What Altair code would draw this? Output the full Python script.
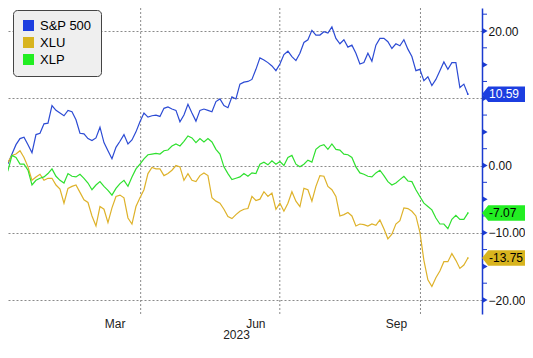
import altair as alt
import pandas as pd

series_names = ["S&P 500", "XLU", "XLP"]
line_colors = ["#2c4bd4", "#deb22a", "#2fe02f"]
start_date = "2022-12-30"
end_date = "2023-11-01"

spx = [0.0, 0.0, 0.3, 1.7, 3.1, 4.0, 4.2, 3.1, 1.9, 4.6,
       4.8, 6.2, 6.3, 8.9, 8.2, 7.8, 7.4, 8.2, 8.0, 6.8,
       4.8, 4.7, 4.0, 3.7, 4.1, 5.7, 3.4, 2.2, 1.0, 2.7,
       3.6, 4.6, 3.2, 3.8, 5.0, 6.5, 7.8, 7.2, 7.4, 7.5,
       7.3, 8.5, 8.7, 8.4, 8.2, 6.5, 7.5, 9.1, 7.8, 6.6,
       8.2, 8.4, 8.2, 8.0, 9.5, 9.9, 8.9, 8.6, 10.2, 9.9,
       12.1, 12.4, 12.5, 12.8, 14.3, 16.0, 15.7, 15.3, 14.8, 14.1,
       15.1, 16.5, 17.0, 16.2, 15.6, 16.7, 18.3, 18.7, 20.1, 19.4,
       19.4, 19.9, 19.7, 20.6, 18.9, 18.1, 18.7, 17.6, 17.9, 16.7,
       15.1, 15.3, 16.7, 15.5, 17.9, 18.9, 18.9, 18.4, 17.4, 18.1,
       17.8, 18.7, 17.3, 16.2, 14.1, 14.3, 12.6, 13.2, 11.9, 12.8,
       14.1, 15.4, 14.3, 15.3, 15.3, 11.6, 12.1, 10.59]

xlp = [0.0, 0.0, -0.7, 1.5, 1.2, 0.2, 0.2, -0.7, -2.9, -2.2,
       -1.9, -1.7, -1.2, -0.5, -1.6, -2.2, -2.6, -1.2, -1.6, -1.7,
       -1.3, -1.9, -2.6, -3.6, -2.9, -2.4, -3.1, -3.7, -4.4, -3.4,
       -2.7, -2.2, -3.1, -1.7, -0.5, 0.2, 1.0, 1.6, 1.7, 1.8,
       1.7, 2.2, 2.3, 2.9, 3.2, 2.9, 3.6, 4.4, 4.1, 3.4,
       4.0, 3.5, 4.0, 3.5, 2.4, 1.7, -0.2, -1.2, -2.1, -1.9,
       -1.7, -1.2, -1.6, -1.1, -1.2, 0.2, 0.5, 0.1, 0.7, 0.2,
       0.6, 0.0, 1.2, 1.5, 0.2, -0.2, 0.2, 0.8, 0.5, 2.4,
       2.9, 3.1, 2.4, 3.2, 2.4, 2.3, 1.7, 1.6, 1.2, -0.2,
       -1.1, -1.3, -1.6, -1.7, -1.1, -0.7, -1.5, -2.4, -2.9, -2.6,
       -2.1, -1.6, -2.3, -2.4, -3.6, -4.6, -5.6, -6.1, -6.6, -7.8,
       -8.7, -8.7, -9.4, -8.0, -7.4, -8.0, -8.0, -7.07]

xlu = [0.0, 0.2, 0.5, 1.5, 1.7, 2.2, 1.2, -0.2, -2.2, -1.7,
       -1.3, -2.2, -1.9, -1.9, -2.9, -3.5, -5.6, -3.4, -3.1, -2.9,
       -4.0, -5.1, -5.5, -7.5, -9.0, -6.1, -6.5, -8.5, -6.3, -4.6,
       -4.4, -4.8, -7.8, -8.7, -6.1, -4.8, -3.6, -1.2, -0.3, -0.5,
       -0.5, -1.5, -1.2, -0.7, 0.0, -0.2, -2.2, -1.2, -2.2, -2.4,
       -1.5, -1.1, -1.5, -4.8, -5.3, -5.6, -6.5, -7.6, -7.9, -7.3,
       -6.8, -6.5, -6.4, -4.6, -5.2, -5.0, -3.9, -4.6, -4.1, -6.5,
       -5.6, -6.8, -5.6, -3.9, -5.3, -6.1, -3.4, -3.6, -5.3, -3.1,
       -1.5, -1.6, -3.1, -3.6, -4.6, -7.5, -7.3, -7.0, -7.5, -9.0,
       -8.7, -8.8, -9.0, -8.7, -8.9, -8.1, -9.4, -10.9, -10.2, -8.7,
       -8.2, -6.3, -6.4, -6.8, -7.5, -9.9, -14.1, -17.0, -18.0, -16.7,
       -15.7, -14.3, -14.3, -13.1, -14.1, -15.3, -14.8, -13.75]

last_labels = ["10.59", "-13.75", "-7.07"]
last_values = [10.59, -13.75, -7.07]
box_colors = ["#1c3ee0", "#d8b41e", "#22ee22"]
box_text_colors = ["#ffffff", "#000000", "#000000"]

major_ticks = [-20, -15, -10, -5, 0, 5, 10, 15, 20]
minor_ticks = [-17.5, -12.5, -7.5, -2.5, 2.5, 7.5, 12.5, 17.5, 22.5]
quarter_lines = ["2023-01-01", "2023-04-01", "2023-07-01", "2023-10-01"]
month_label_dates = ["2023-03-15", "2023-06-15", "2023-09-15"]

AXIS_BLUE = "#1a3ad0"
FONT = "Liberation Sans"
W, H = 474, 306
PX_PER_DAY = 1.529


def ms(ts):
    return int(pd.Timestamp(ts).value // 10**6)


dates = pd.date_range(start_date, end_date, periods=len(spx))
frames = []
for name, vals in zip(series_names, [spx, xlu, xlp]):
    frames.append(pd.DataFrame({"date": dates, "value": vals, "series": name}))
df = pd.concat(frames, ignore_index=True)

last_df = pd.DataFrame({
    "date": [dates[-1]] * 3,
    "value": last_values,
    "series": series_names,
    "label": last_labels,
    "box": box_colors,
    "tcol": box_text_colors,
})
grid_df = pd.DataFrame({"date": pd.to_datetime(quarter_lines)})
major_df = pd.DataFrame({"value": major_ticks})
minor_df = pd.DataFrame({"value": minor_ticks})

d0 = pd.Timestamp(start_date) + pd.Timedelta(days=8 / PX_PER_DAY)
d1 = pd.Timestamp(start_date) + pd.Timedelta(days=482 / PX_PER_DAY)

x_enc = alt.X(
    "date:T",
    scale=alt.Scale(domain=[ms(d0), ms(d1)]),
    axis=alt.Axis(
        values=[ms(d) for d in month_label_dates],
        format="%b",
        grid=False, ticks=False, domain=False,
        labelFont=FONT, labelFontSize=12, labelColor="#222222",
        labelPadding=4, labelFlush=False, labelOverlap=False,
        title="2023", titleFont=FONT, titleFontSize=12, titleFontWeight="normal",
        titleColor="#222222", titleX=228, titleY=20, titleAlign="center",
        titleBaseline="middle",
    ),
)
y_scale = alt.Scale(domain=[-22.08, 23.42], nice=False, zero=False)
y_enc = alt.Y(
    "value:Q",
    scale=y_scale,
    axis=alt.Axis(
        orient="right", values=major_ticks,
        labelExpr="datum.value == 10 ? '' : format(datum.value, '.2f')",
        grid=True, gridDash=[2, 2], gridColor="#8a8a8a", gridWidth=1,
        domainColor=AXIS_BLUE, domainWidth=1.5,
        ticks=False, tickSize=0, labelPadding=6, labelAlign="left",
        labelFont=FONT, labelFontSize=12, labelColor="#111111",
        labelFlush=False, labelOverlap=False, title=None,
    ),
)
y_plain = alt.Y("value:Q", scale=y_scale, title=None)

vgrid = alt.Chart(grid_df).mark_rule(
    color="#8a8a8a", strokeDash=[2, 2], strokeWidth=1, clip=True
).encode(x=alt.X("date:T"))

lines = alt.Chart(df).mark_line(strokeWidth=1.2, clip=True).encode(
    x=x_enc,
    y=y_enc,
    color=alt.Color("series:N", scale=alt.Scale(domain=series_names, range=line_colors),
                    legend=None),
    detail="series:N",
)

legend_keys = alt.Chart(last_df).mark_square(filled=True, size=2, opacity=1).encode(
    x=alt.X("date:T"),
    y=y_plain,
    color=alt.Color(
        "series:N",
        scale=alt.Scale(domain=series_names, range=box_colors),
        sort=series_names,
        legend=alt.Legend(
            orient="none", legendX=5, legendY=2, title=None,
            fillColor="#efefef", strokeColor="#444444", cornerRadius=4,
            padding=9, symbolType="square", symbolSize=121, symbolStrokeWidth=0,
            symbolOpacity=1, labelFont=FONT, labelFontSize=13, labelColor="#000000",
            labelOffset=5, rowPadding=3,
        ),
    ),
)

minor = alt.Chart(minor_df).mark_rule(color=AXIS_BLUE, strokeWidth=1).encode(
    y=y_plain, x=alt.value(W), x2=alt.value(W + 5)
)
major = alt.Chart(major_df).mark_point(
    shape="triangle-right", filled=True, size=36, opacity=1, color=AXIS_BLUE
).encode(y=y_plain, x=alt.value(W + 3))

box_path = "M-1,0 L-0.76,-0.3 L1,-0.3 L1,0.3 L-0.76,0.3 Z"
boxes = alt.Chart(last_df).mark_point(
    shape=box_path, filled=True, size=2704, opacity=1, strokeWidth=0
).encode(
    y=y_plain, x=alt.value(W + 26), fill=alt.Fill("box:N", scale=None)
)
box_text = alt.Chart(last_df).mark_text(
    align="left", baseline="middle", font=FONT, fontSize=12
).encode(
    y=y_plain, x=alt.value(W + 7), text="label:N", color=alt.Color("tcol:N", scale=None)
)

chart = alt.layer(
    vgrid, lines, legend_keys, minor, major, boxes, box_text
).resolve_scale(color="independent").properties(
    width=W, height=H,
    padding={"left": 0, "top": 0, "right": 43, "bottom": 28},
    autosize=alt.AutoSizeParams(type="none"),
    background="white",
).configure_view(stroke=None)

chart.save("out.html", embed_options={"renderer": "svg", "actions": False})
